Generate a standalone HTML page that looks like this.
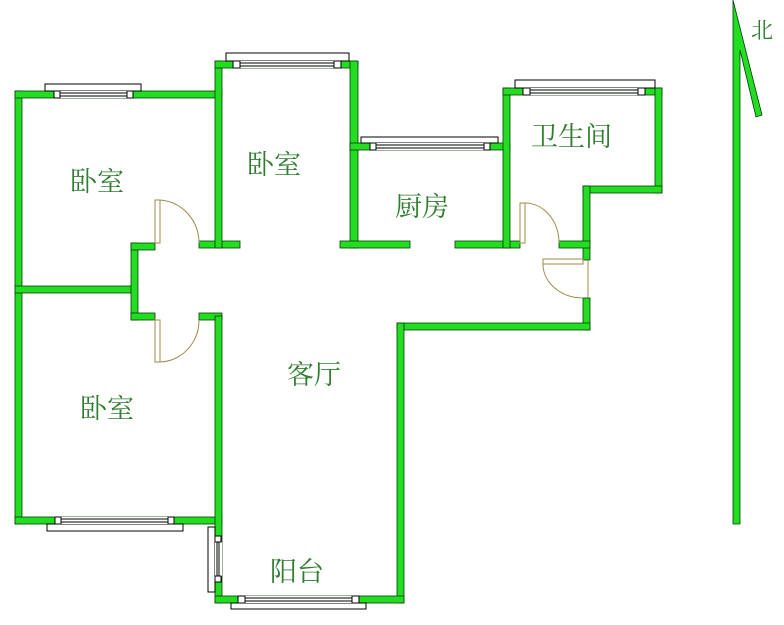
<!DOCTYPE html>
<html><head><meta charset="utf-8"><style>
html,body{margin:0;padding:0;background:#fff;}
svg{display:block}
text{font-family:"Liberation Serif","Noto Serif CJK SC",serif;fill:#2f7d2f;font-size:27px}
</style></head><body>
<svg width="784" height="625" viewBox="0 0 784 625">
<g fill="#22dd22" stroke="#0a3a0a" stroke-width="0.8">
<rect x="15" y="91" width="7" height="433"/>
<rect x="15" y="91" width="207" height="7"/>
<rect x="15" y="286" width="120" height="7"/>
<rect x="15" y="517" width="207" height="7"/>
<rect x="131" y="243" width="7" height="77"/>
<rect x="131" y="243" width="24" height="7"/>
<rect x="131" y="313" width="24" height="7"/>
<rect x="199" y="241" width="41" height="7"/>
<rect x="199" y="313" width="23" height="7"/>
<rect x="215" y="61" width="7" height="187"/>
<rect x="215" y="61" width="143" height="7"/>
<rect x="350" y="61" width="8" height="187"/>
<rect x="340" y="241" width="70" height="7"/>
<rect x="350" y="143" width="160" height="7"/>
<rect x="455" y="241" width="65" height="7"/>
<rect x="503" y="88" width="7" height="160"/>
<rect x="503" y="88" width="159" height="7"/>
<rect x="655" y="88" width="7" height="105"/>
<rect x="583" y="186" width="79" height="7"/>
<rect x="583" y="186" width="7" height="74"/>
<rect x="559" y="241" width="31" height="7"/>
<rect x="583" y="298" width="7" height="32"/>
<rect x="397" y="323" width="193" height="7"/>
<rect x="397" y="323" width="7" height="280"/>
<rect x="215" y="316" width="7" height="287"/>
<rect x="215" y="596" width="189" height="7"/>
<polygon points="733,0 762,115 756,117 740,50 740,524 733,524"/>
</g>
<!-- windows -->
<g fill="#fff" stroke="#000" stroke-width="1">
<rect x="45" y="84" width="96" height="7"/>
<rect x="60" y="91" width="67" height="7" stroke="none"/>
<rect x="54" y="91" width="6" height="7"/><rect x="127" y="91" width="6" height="7"/>
<line x1="60" y1="93" x2="127" y2="93"/><line x1="60" y1="96" x2="127" y2="96"/>
<rect x="226" y="53" width="123" height="8"/>
<rect x="240" y="61" width="94" height="7" stroke="none"/>
<rect x="233" y="61" width="7" height="7"/><rect x="334" y="61" width="7" height="7"/>
<line x1="240" y1="63" x2="334" y2="63"/><line x1="240" y1="66" x2="334" y2="66"/>
<rect x="361" y="137" width="137" height="6"/>
<rect x="376" y="143" width="108" height="7" stroke="none"/>
<rect x="370" y="143" width="6" height="7"/><rect x="484" y="143" width="6" height="7"/>
<line x1="376" y1="145" x2="484" y2="145"/><line x1="376" y1="148" x2="484" y2="148"/>
<rect x="515" y="80" width="140" height="8"/>
<rect x="530" y="88" width="108" height="7" stroke="none"/>
<rect x="523" y="88" width="7" height="7"/><rect x="638" y="88" width="7" height="7"/>
<line x1="530" y1="90" x2="638" y2="90"/><line x1="530" y1="93" x2="638" y2="93"/>
<rect x="47" y="524" width="136" height="7"/>
<rect x="61" y="517" width="107" height="7" stroke="none"/>
<rect x="55" y="517" width="6" height="7"/><rect x="168" y="517" width="6" height="7"/>
<line x1="61" y1="519" x2="168" y2="519"/><line x1="61" y1="522" x2="168" y2="522"/>
<rect x="231" y="603" width="135" height="6"/>
<rect x="245" y="596" width="107" height="7" stroke="none"/>
<rect x="238" y="596" width="7" height="7"/><rect x="352" y="596" width="7" height="7"/>
<line x1="245" y1="598" x2="352" y2="598"/><line x1="245" y1="601" x2="352" y2="601"/>
<rect x="208" y="527" width="7" height="65"/>
<rect x="215" y="542" width="7" height="34" stroke="none"/>
<rect x="215" y="536" width="6" height="6"/><rect x="215" y="576" width="6" height="6"/>
<line x1="217" y1="542" x2="217" y2="576"/><line x1="219" y1="542" x2="219" y2="576"/>
</g>
<g fill="none" stroke="#a08a4a" stroke-width="1">
<rect x="155" y="200" width="5" height="43"/>
<path d="M160 200 A42 43 0 0 1 199 243"/>
<rect x="155" y="320" width="5" height="42"/>
<path d="M160 362 A40 42 0 0 0 199 320"/>
<rect x="520" y="203" width="5" height="40"/>
<path d="M525 203 A34 40 0 0 1 559 243"/>
<rect x="543" y="259" width="40" height="5"/>
<path d="M543 264 A40 34 0 0 0 583 298"/>
<line x1="588" y1="260" x2="588" y2="298"/>
</g>
<text x="70" y="191">卧室</text>
<text x="247" y="174">卧室</text>
<text x="395" y="216">厨房</text>
<text x="531" y="146">卫生间</text>
<text x="287" y="384">客厅</text>
<text x="80" y="418">卧室</text>
<text x="270" y="581">阳台</text>
<text x="751" y="38" style="font-size:22px">北</text>
</svg>
</body></html>
